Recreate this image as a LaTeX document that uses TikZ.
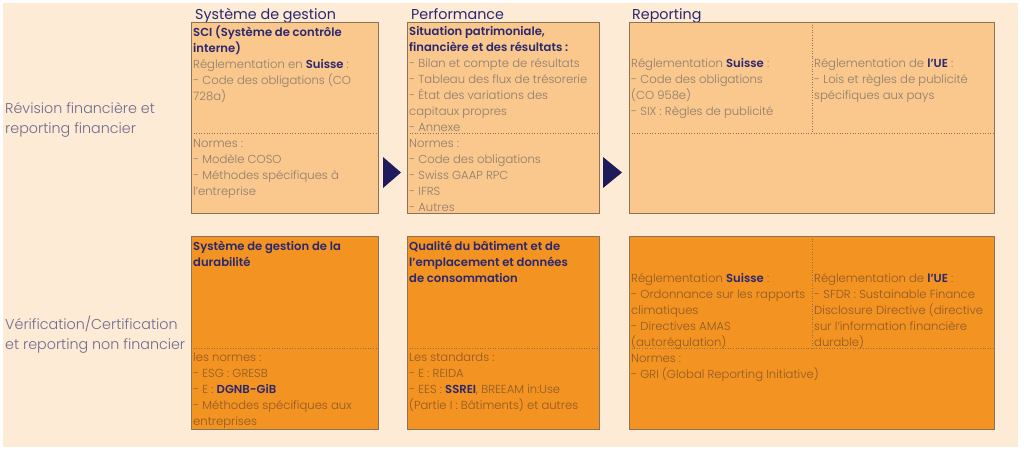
\documentclass[tikz,border=0pt]{standalone}
\usepackage{fontspec}
\setmainfont{Poppins}[UprightFont=*-Light,BoldFont=*-SemiBold]
\newfontfamily\headfont{Poppins}

\definecolor{bgpeach}{RGB}{253,235,214}
\definecolor{lightbox}{RGB}{250,199,140}
\definecolor{darkbox}{RGB}{243,147,34}
\definecolor{boxline}{RGB}{139,115,85}
\definecolor{navy}{RGB}{43,40,110}
\definecolor{arrownavy}{RGB}{30,27,92}
\definecolor{topgray}{RGB}{140,125,110}
\definecolor{botbrown}{RGB}{142,90,38}
\definecolor{rowgray}{RGB}{110,106,142}

\newcommand{\ttl}[1]{{\color{navy}\bfseries #1}}
\newcommand{\hl}[1]{{\color{navy}\bfseries #1}}

% text nodes are placed by the baseline of their last line
\tikzset{
  box/.style={draw=boxline, line width=0.8pt, anchor=north west, inner sep=0pt},
  sep/.style={draw=boxline, dotted, line width=0.6pt},
  txt/.style={anchor=base west, inner sep=0pt, align=left, font=\fontsize{11.6}{16}\selectfont},
  head/.style={anchor=base west, inner sep=0pt, text=navy, font=\headfont\fontsize{14.3}{16}\selectfont},
  rowlabel/.style={anchor=base west, inner sep=0pt, align=left, text=rowgray, font=\fontsize{14.3}{19.5}\selectfont}
}

\begin{document}
\begin{tikzpicture}[x=1pt, y=-1pt]
    \useasboundingbox (0,0) rectangle (1024,450);
    \fill[bgpeach] (3,3) rectangle (1018,447);

    % Column headers
    \node[head] (hsys) at (195,19) {Système de gestion};
    \node[head] (hperf) at (411,19) {Performance};
    \node[head] (hrep) at (632,19) {Reporting};

    % Row labels
    \node[rowlabel] (rfin) at (5,133) {Révision financière et\\reporting financier};
    \node[rowlabel] (rnonfin) at (5,349) {Vérification/Certification\\et reporting non financier};

    % Top row boxes
    \node[box, fill=lightbox, minimum width=187, minimum height=191] (sci) at (191,22) {};
    \node[box, fill=lightbox, minimum width=192, minimum height=191] (perf) at (407,22) {};
    \node[box, fill=lightbox, minimum width=365, minimum height=191] (rep) at (629,22) {};
    \draw[sep] (191,133) -- (378,133);
    \draw[sep] (407,133) -- (599,133);
    \draw[sep] (629,133) -- (994,133);
    \draw[sep] (812,22) -- (812,133);

    % Bottom row boxes
    \node[box, fill=darkbox, minimum width=187, minimum height=193] (dur) at (191,236) {};
    \node[box, fill=darkbox, minimum width=192, minimum height=193] (qual) at (407,236) {};
    \node[box, fill=darkbox, minimum width=365, minimum height=193] (repnf) at (629,236) {};
    \draw[sep] (191,348) -- (378,348);
    \draw[sep] (407,348) -- (599,348);
    \draw[sep] (629,348) -- (994,348);
    \draw[sep] (812,236) -- (812,348);

    % Arrows between the columns
    \fill[arrownavy] (383,157) -- (401,172.5) -- (383,188) -- cycle;
    \fill[arrownavy] (603,157) -- (622,172.5) -- (603,188) -- cycle;

    % Top row texts
    \node[txt, text=topgray] (scitxt) at (193,100) {\ttl{SCI (Système de contrôle}\\\ttl{interne)}\\Réglementation en \hl{Suisse} :\\- Code des obligations (CO\\728a)};
    \node[txt, text=topgray] (scinorm) at (193,195) {Normes :\\- Modèle COSO\\- Méthodes spécifiques à\\l'entreprise};
    \node[txt, text=topgray] (perftxt) at (409,131) {\ttl{Situation patrimoniale,}\\\ttl{financière et des résultats :}\\- Bilan et compte de résultats\\- Tableau des flux de trésorerie\\- État des variations des\\capitaux propres\\- Annexe};
    \node[txt, text=topgray] (perfnorm) at (409,211) {Normes :\\- Code des obligations\\- Swiss GAAP RPC\\- IFRS\\- Autres};
    \node[txt, text=topgray] (repch) at (631,115) {Réglementation \hl{Suisse} :\\- Code des obligations\\(CO 958e)\\- SIX : Règles de publicité};
    \node[txt, text=topgray] (repue) at (814,99) {Réglementation de \hl{l'UE} :\\- Lois et règles de publicité\\spécifiques aux pays};

    % Bottom row texts
    \node[txt, text=botbrown] (durtxt) at (193,266) {\ttl{Système de gestion de la}\\\ttl{durabilité}};
    \node[txt, text=botbrown] (durnorm) at (193,425) {les normes :\\- ESG : GRESB\\- E : \hl{DGNB-GiB}\\- Méthodes spécifiques aux\\entreprises};
    \node[txt, text=botbrown] (qualtxt) at (409,282) {\ttl{Qualité du bâtiment et de}\\\ttl{l'emplacement et données}\\\ttl{de consommation}};
    \node[txt, text=botbrown] (qualstd) at (409,409) {Les standards :\\- E : REIDA\\- EES : \hl{SSREI}, BREEAM in:Use\\(Partie I : Bâtiments) et autres};
    \node[txt, text=botbrown] (nfch) at (631,346) {Réglementation \hl{Suisse} :\\- Ordonnance sur les rapports\\climatiques\\- Directives AMAS\\(autorégulation)};
    \node[txt, text=botbrown] (nfue) at (814,346) {Réglementation de \hl{l'UE} :\\- SFDR : Sustainable Finance\\Disclosure Directive (directive\\sur l'information financière\\durable)};
    \node[txt, text=botbrown] (nfnorm) at (631,378) {Normes :\\- GRI (Global Reporting Initiative)};
\end{tikzpicture}
\end{document}
